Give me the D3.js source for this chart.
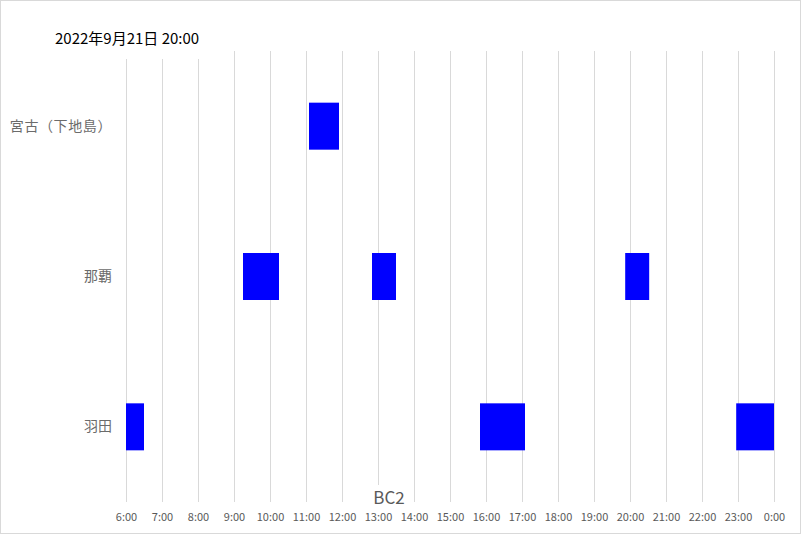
<!DOCTYPE html>
<html><head><meta charset="utf-8">
<script src="https://cdn.jsdelivr.net/npm/d3@7"></script>
<style>body{margin:0;background:#fff}svg{display:block}</style>
</head><body>
<svg id="c" width="801" height="534"></svg>
<script>
const title = "2022年9月21日 20:00";
const axisTitle = "BC2";
const categories = ["宮古（下地島）", "那覇", "羽田"];
const hourTicks = [6,7,8,9,10,11,12,13,14,15,16,17,18,19,20,21,22,23,24];
const barAirport = ["宮古（下地島）", "那覇", "那覇", "那覇", "羽田", "羽田", "羽田"];
const barStart   = ["11:05", "9:15", "12:50", "19:52", "6:00", "15:50", "22:57"];
const barEnd     = ["11:55", "10:15", "13:30", "20:32", "6:30", "17:05", "24:00"];

const toH = s => { const [h, m] = s.split(":").map(Number); return h + m / 60; };
const svg = d3.select("#c");
const W = 801, H = 534;
const mLeft = 126, mRight = 774, mTop = 51, mBottom = 502;
const font = "'Noto Sans CJK JP','Noto Sans',sans-serif";

svg.append("rect").attr("x", 0.5).attr("y", 0.5).attr("width", W - 1).attr("height", H - 1)
  .attr("fill", "#fff").attr("stroke", "#d9d9d9");

const x = d3.scaleLinear().domain([6, 24]).range([mLeft, mRight]);
const y = d3.scaleBand().domain(categories).range([mTop, mBottom]);

// gridlines
svg.append("g").selectAll("line").data(hourTicks).join("line")
  .attr("x1", d => Math.round(x(d)) + 0.5).attr("x2", d => Math.round(x(d)) + 0.5)
  .attr("y1", mTop).attr("y2", mBottom)
  .attr("stroke", "#d9d9d9").attr("stroke-width", 1);

// bars
const bh = 47;
svg.append("g").selectAll("rect").data(barAirport.map((a, i) => ({a, s: toH(barStart[i]), e: toH(barEnd[i])})))
  .join("rect")
  .attr("x", d => x(d.s)).attr("width", d => x(d.e) - x(d.s))
  .attr("y", d => y(d.a) + y.bandwidth() / 2 - bh / 2).attr("height", bh)
  .attr("fill", "#0000ff");

// x axis labels
const xa = d3.axisBottom(x).tickValues(hourTicks).tickSize(0).tickPadding(0)
  .tickFormat(d => (d % 24) + ":00");
const gx = svg.append("g").attr("transform", `translate(0,${mBottom + 19})`).call(xa);
gx.select(".domain").remove();
gx.selectAll("text").attr("font-family", font).attr("font-size", 11).attr("fill", "#595959")
  .attr("dy", 0).attr("dominant-baseline", "auto");

// y labels
const ya = d3.axisLeft(y).tickSize(0).tickPadding(0);
const gy = svg.append("g").attr("transform", `translate(112,0)`).call(ya);
gy.select(".domain").remove();
gy.selectAll("text").attr("font-family", font).attr("font-size", 14).attr("fill", "#6b6b6b")
  .attr("letter-spacing", (d, i) => i === 0 ? 0.6 : 0);

// axis title with white background
svg.append("rect").attr("x", 372).attr("y", 485).attr("width", 34).attr("height", 18).attr("fill", "#fff");
svg.append("text").attr("x", 389).attr("y", 504).attr("text-anchor", "middle")
  .attr("font-family", font).attr("font-size", 17).attr("fill", "#595959").text(axisTitle);

// title with white background
svg.append("rect").attr("x", 40).attr("y", 20).attr("width", 178).attr("height", 39).attr("fill", "#fff");
svg.append("text").attr("x", 55).attr("y", 44).attr("font-family", font).attr("font-size", 15)
  .attr("fill", "#000").text(title);
</script>
</body></html>
